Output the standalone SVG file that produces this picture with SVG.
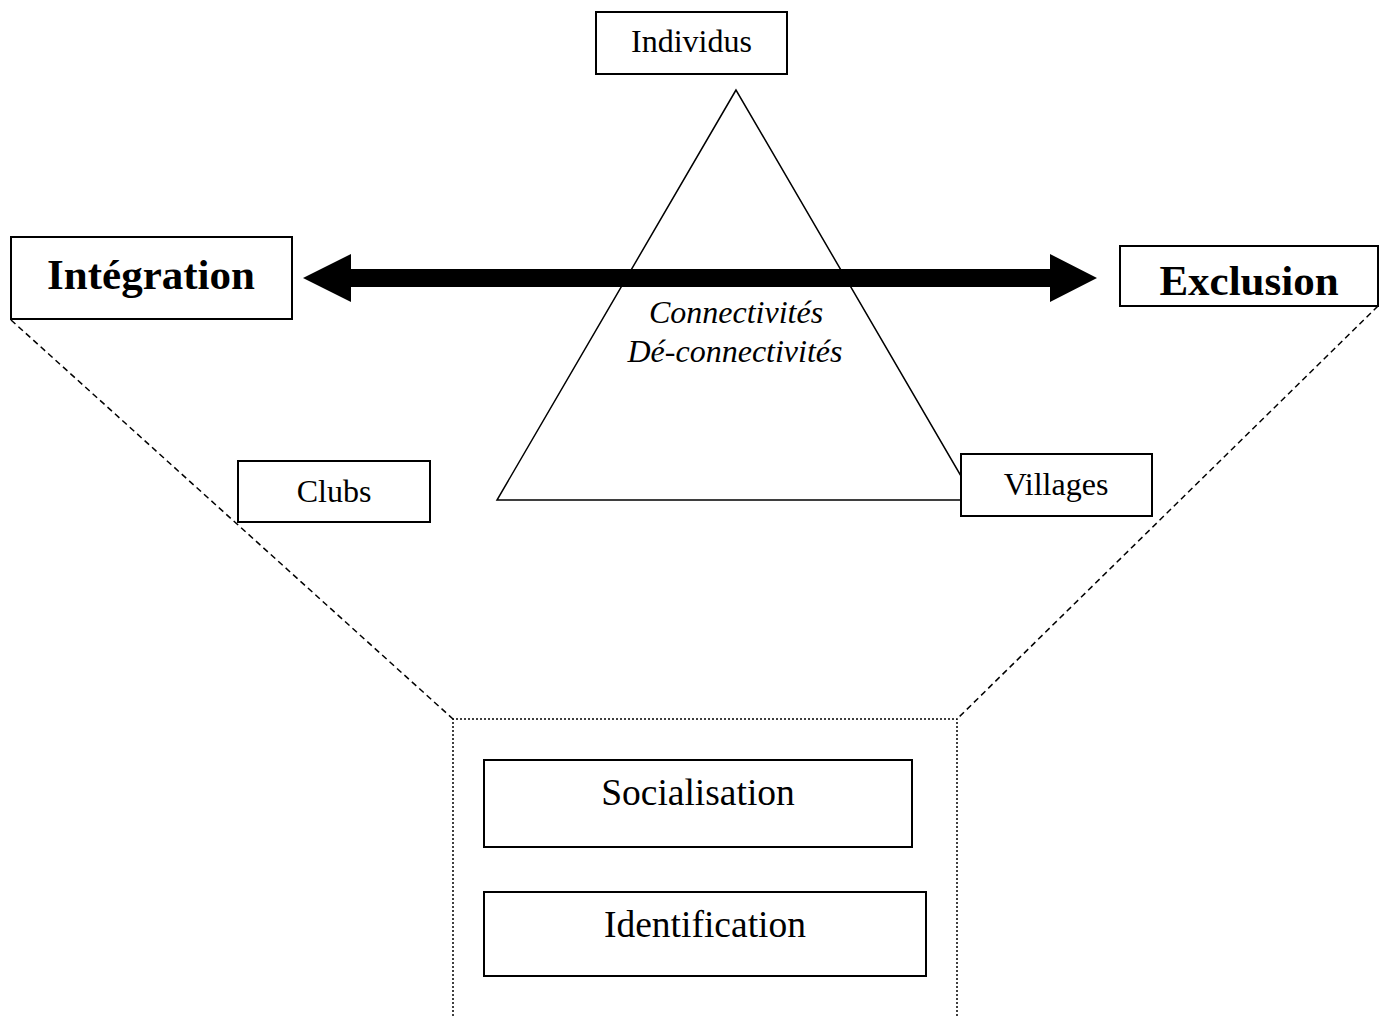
<svg xmlns="http://www.w3.org/2000/svg" width="1382" height="1016" viewBox="0 0 1382 1016">
<style>
.box{fill:#fff;stroke:#000;stroke-width:2}
.t{font-family:"Liberation Serif","Times New Roman",serif;fill:#000;text-anchor:middle}
.s{font-size:32px}
.m{font-size:37.5px}
.b{font-size:43px;font-weight:bold}
.i{font-size:32px;font-style:italic}
.dash{fill:none;stroke:#000;stroke-width:1.5;stroke-dasharray:6 4}
.dot{fill:none;stroke:#000;stroke-width:1.5;stroke-dasharray:2 2}
</style>
<rect width="1382" height="1016" fill="#fff"/>
<g id="connectors">
<line class="dash" x1="11" y1="320" x2="453" y2="719"/>
<line class="dash" x1="1378" y1="306" x2="957" y2="719"/>
<polyline class="dot" points="453,1016 453,719 957,719 957,1016"/>
<polygon id="triangle" points="736,90 497,500 975,500" fill="none" stroke="#000" stroke-width="1.5"/>
<polygon id="arrow" points="303,278 351,254 351,269 1050,269 1050,254 1097,278 1050,302 1050,287 351,287 351,302" fill="#000"/>
</g>
<g id="connectivites">
<text class="t i" x="736" y="323">Connectivités</text>
<text class="t i" x="735" y="362">Dé-connectivités</text>
</g>
<g id="individus"><rect class="box" x="596" y="12" width="191" height="62"/><text class="t s" x="691.5" y="52">Individus</text></g>
<g id="integration"><rect class="box" x="11" y="237" width="281" height="82"/><text class="t b" x="151" y="289">Intégration</text></g>
<g id="exclusion"><rect class="box" x="1120" y="246" width="258" height="60"/><text class="t b" x="1249" y="295">Exclusion</text></g>
<g id="clubs"><rect class="box" x="238" y="461" width="192" height="61"/><text class="t s" x="334" y="502">Clubs</text></g>
<g id="villages"><rect class="box" x="961" y="454" width="191" height="62"/><text class="t s" x="1056" y="495">Villages</text></g>
<g id="socialisation"><rect class="box" x="484" y="760" width="428" height="87"/><text class="t m" x="698" y="805">Socialisation</text></g>
<g id="identification"><rect class="box" x="484" y="892" width="442" height="84"/><text class="t m" x="705" y="937">Identification</text></g>
</svg>
